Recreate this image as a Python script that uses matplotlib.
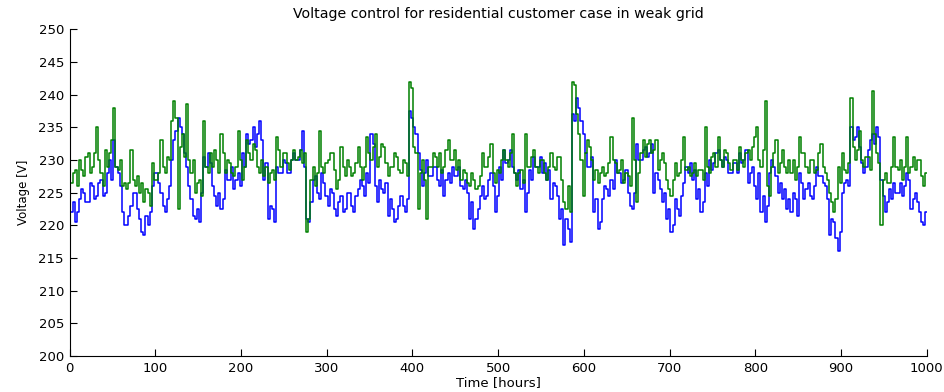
import numpy as np
import matplotlib
matplotlib.use('Agg')
import matplotlib.pyplot as plt

plt.rcParams['font.family'] = ['DejaVu Sans']

# voltage; each 5-hour block (from hour 1) has a value
# for its first half (*_a) and one for its second half (*_b)
blue_a = [
    222, 220.5, 224, 225, 223.5, 226, 224.5, 227, 225, 230,
    233, 228, 222, 220, 223, 225, 221, 218.5, 220, 226,
    228, 225, 222, 226, 233, 236.5, 234, 229, 224, 221,
    220.5, 230.5, 231, 226, 223, 222.5, 228.5, 227, 225.5, 228,
    231, 234, 233, 232, 236, 227, 221, 222.5, 229, 228,
    229.5, 228, 231, 230, 234.5, 221, 223.5, 227.5, 224, 226.5,
    223, 225, 221.5, 224.5, 222.5, 225, 222, 225.5, 226, 228,
    234, 226, 227, 225, 221.5, 222.5, 221, 224.5, 222, 237.5,
    235, 231, 226, 230, 227.5, 229, 226, 224.5, 228, 229,
    227.5, 226, 227, 221, 219.5, 222.5, 226, 224.5, 228, 222,
    229, 231.5, 230, 229, 227, 225.5, 222, 228.5, 230.5, 229,
    228, 227, 224, 226, 221, 217, 219.5, 237, 239.5, 236,
    231, 229, 222, 219.5, 224, 225.5, 227, 230, 228, 227,
    225, 222.5, 232.5, 230, 232, 231, 225, 227, 223.5, 221,
    219, 224, 221.5, 226.5, 228, 227, 224, 222, 228, 230,
    229.5, 231.5, 229, 230, 228, 229.5, 231, 230, 226.5, 229,
    224, 222, 220.5, 228, 229, 225, 224, 222.5, 222, 224,
    228, 224, 226.5, 224, 229, 227.5, 226, 218.5, 220.5, 216,
    225, 227, 235, 233.5, 232, 228, 231.5, 234, 235, 227,
    222, 225.5, 226.5, 225, 224.5, 228, 222.5, 225, 222, 220,
]
blue_b = [
    223.5, 222, 225.5, 223.5, 226.5, 224, 226.5, 224.5, 228, 227,
    229, 226, 220, 221.5, 225, 222.5, 219, 221.5, 222, 228,
    226.5, 223, 224, 230, 234.5, 235, 231, 226, 221.5, 222.5,
    225, 229, 229.5, 224.5, 225, 224, 227, 229, 227, 226,
    229, 232.5, 235, 234, 233, 229.5, 223, 220.5, 228, 230,
    228, 230, 230, 231.5, 229, 220.5, 227, 225, 228, 224.5,
    225.5, 222.5, 223.5, 222, 225, 223, 224.5, 227, 224.5, 226.5,
    232.5, 223.5, 225.5, 226.5, 224, 220.5, 223, 223, 224, 236.5,
    234, 228.5, 228, 227.5, 229, 227, 228.5, 227, 226.5, 227.5,
    229, 225.5, 225, 223.5, 221, 224.5, 224, 227, 226, 224.5,
    227, 229.5, 231.5, 228, 228.5, 227, 225, 227, 229, 230.5,
    229.5, 228.5, 226.5, 224.5, 222.5, 221, 217.5, 236, 238, 234,
    229, 230.5, 224, 220.5, 226, 224.5, 225.5, 228, 226.5, 228.5,
    223, 225, 230, 231.5, 230.5, 232.5, 228, 225.5, 225, 222.5,
    220, 222.5, 224.5, 229, 229.5, 228.5, 225.5, 223.5, 226, 228.5,
    231, 230, 230.5, 228, 229.5, 228, 229.5, 231.5, 228, 226,
    228, 224.5, 223, 230, 227.5, 226.5, 225.5, 224, 225, 221.5,
    226.5, 225.5, 224.5, 226, 227.5, 226.5, 224, 221, 218, 219,
    226.5, 226, 233, 235, 229.5, 229, 233, 232.5, 233.5, 224.5,
    223.5, 224, 225, 226.5, 226, 227, 224, 223.5, 220.5, 222,
]
green_a = [
    226.5, 228.5, 230, 227.5, 231, 229, 235, 228, 231.5, 231,
    238, 228.5, 226, 225.5, 231.5, 226, 225, 223.5, 225, 229.5,
    227, 233, 228, 230, 239, 222.5, 234, 238.5, 228, 225,
    227, 236, 228, 229, 230, 234, 228, 229.5, 227.5, 234.5,
    227, 233, 230, 231.5, 228, 227.5, 226.5, 228.5, 233.5, 229,
    231, 228.5, 231.5, 230.5, 229.5, 219, 227, 226, 234.5, 228,
    230, 231, 225.5, 232, 227.5, 229, 228, 232, 227, 233.5,
    230, 234, 230.5, 232, 227.5, 229, 230.5, 228, 229.5, 242,
    232, 222.5, 230, 221, 229, 230.5, 231, 229, 233, 230,
    228.5, 227, 228, 226, 227, 226, 231, 229, 232.5, 226.5,
    228, 231.5, 229, 234, 226, 228.5, 234, 229, 231.5, 228,
    230, 227, 231, 228.5, 230.5, 223.5, 226, 242, 237, 230,
    231, 232, 227, 226.5, 229, 228, 233.5, 229.5, 228.5, 226.5,
    227.5, 236.5, 223.5, 231, 230.5, 233, 231.5, 228.5, 231, 227,
    224.5, 229.5, 228, 233.5, 229, 228, 227.5, 228.5, 235, 228,
    231, 233.5, 229, 231, 228.5, 230, 232, 229, 231.5, 232,
    235, 229, 239, 224.5, 231, 228, 231.5, 228, 228, 227,
    233.5, 231, 228, 230, 228.5, 232.5, 228, 225, 222, 229,
    231, 228, 239.5, 230, 234.5, 229, 230.5, 240.5, 231, 220,
    228, 226.5, 233.5, 228.5, 227, 233.5, 229, 228.5, 230, 226,
]
green_b = [
    228, 226, 228.5, 230.5, 228, 231, 230, 226, 229, 233,
    229, 230, 226.5, 226.5, 227, 227.5, 226.5, 225.5, 223, 227,
    228, 229, 230.5, 236, 236.5, 232, 230.5, 230, 230, 226.5,
    224.5, 229, 231, 231.5, 228, 231, 230, 228, 229, 230,
    229, 231, 232.5, 229, 230, 229, 228, 227, 231.5, 231,
    229.5, 230, 230, 231.5, 231, 221, 229, 228, 229, 229.5,
    231, 228.5, 227, 229, 230, 227.5, 229.5, 229, 229, 231,
    232, 229, 232.5, 229.5, 229, 231, 228.5, 230, 227.5, 241,
    231, 228, 227, 229, 231, 229, 228, 231.5, 230, 231.5,
    230, 228.5, 226.5, 228, 225.5, 227.5, 229, 230.5, 228, 228.5,
    230, 230, 231, 228, 228, 226.5, 229, 230.5, 229, 230,
    228, 229, 229, 230.5, 227, 222.5, 222, 241.5, 234, 224.5,
    233, 230, 228.5, 228, 227.5, 229.5, 230, 228, 230, 228,
    226, 230, 228, 233, 232.5, 231, 233, 230, 229.5, 225.5,
    227, 227.5, 230, 228.5, 227.5, 229.5, 228.5, 227, 229, 230.5,
    229, 230, 231.5, 229.5, 230, 228.5, 230, 231, 230, 233.5,
    230, 231.5, 226, 229, 233, 229.5, 229, 230, 230, 229,
    231, 229, 230, 228, 231, 229, 227, 223.5, 224, 226.5,
    228.5, 229.5, 232, 231.5, 230, 230.5, 228.5, 234, 229.5, 227,
    226.5, 229, 229, 230, 229, 228, 230.5, 230, 227.5, 228,
]
start_voltage = 200

hours = np.r_[0, 1 + 2.5 * np.arange(2 * len(blue_a)), 1000]
blue_steps = np.column_stack([blue_a, blue_b]).ravel()
green_steps = np.column_stack([green_a, green_b]).ravel()
blue = np.r_[start_voltage, blue_steps, blue_steps[-1]]
green = np.r_[start_voltage, green_steps, green_steps[-1]]

fig = plt.figure(figsize=(9.44, 3.92), dpi=100)
ax = fig.add_axes([69.5/944, 1 - 356/392, (926.7 - 69.5)/944, (356 - 29.3)/392])

ax.step(hours, blue, where='post', color='#0000ff', lw=1.1)
ax.step(hours, green, where='post', color='#008000', lw=1.1)

ax.set_xlim(0, 1000)
ax.set_ylim(200, 250)
ax.set_xticks(range(0, 1001, 100))
ax.set_yticks(range(200, 251, 5))
ax.spines['top'].set_visible(False)
ax.spines['right'].set_visible(False)
ax.tick_params(direction='in', length=5, width=0.8, labelsize=9.5, pad=4)

ax.set_title('Voltage control for residential customer case in weak grid', fontsize=10.2, pad=8)
ax.set_xlabel('Time [hours]', fontsize=9.5, labelpad=1)
ax.set_ylabel('Voltage [V]', fontsize=8.5, labelpad=6)

fig.savefig('out.png', dpi=100)
